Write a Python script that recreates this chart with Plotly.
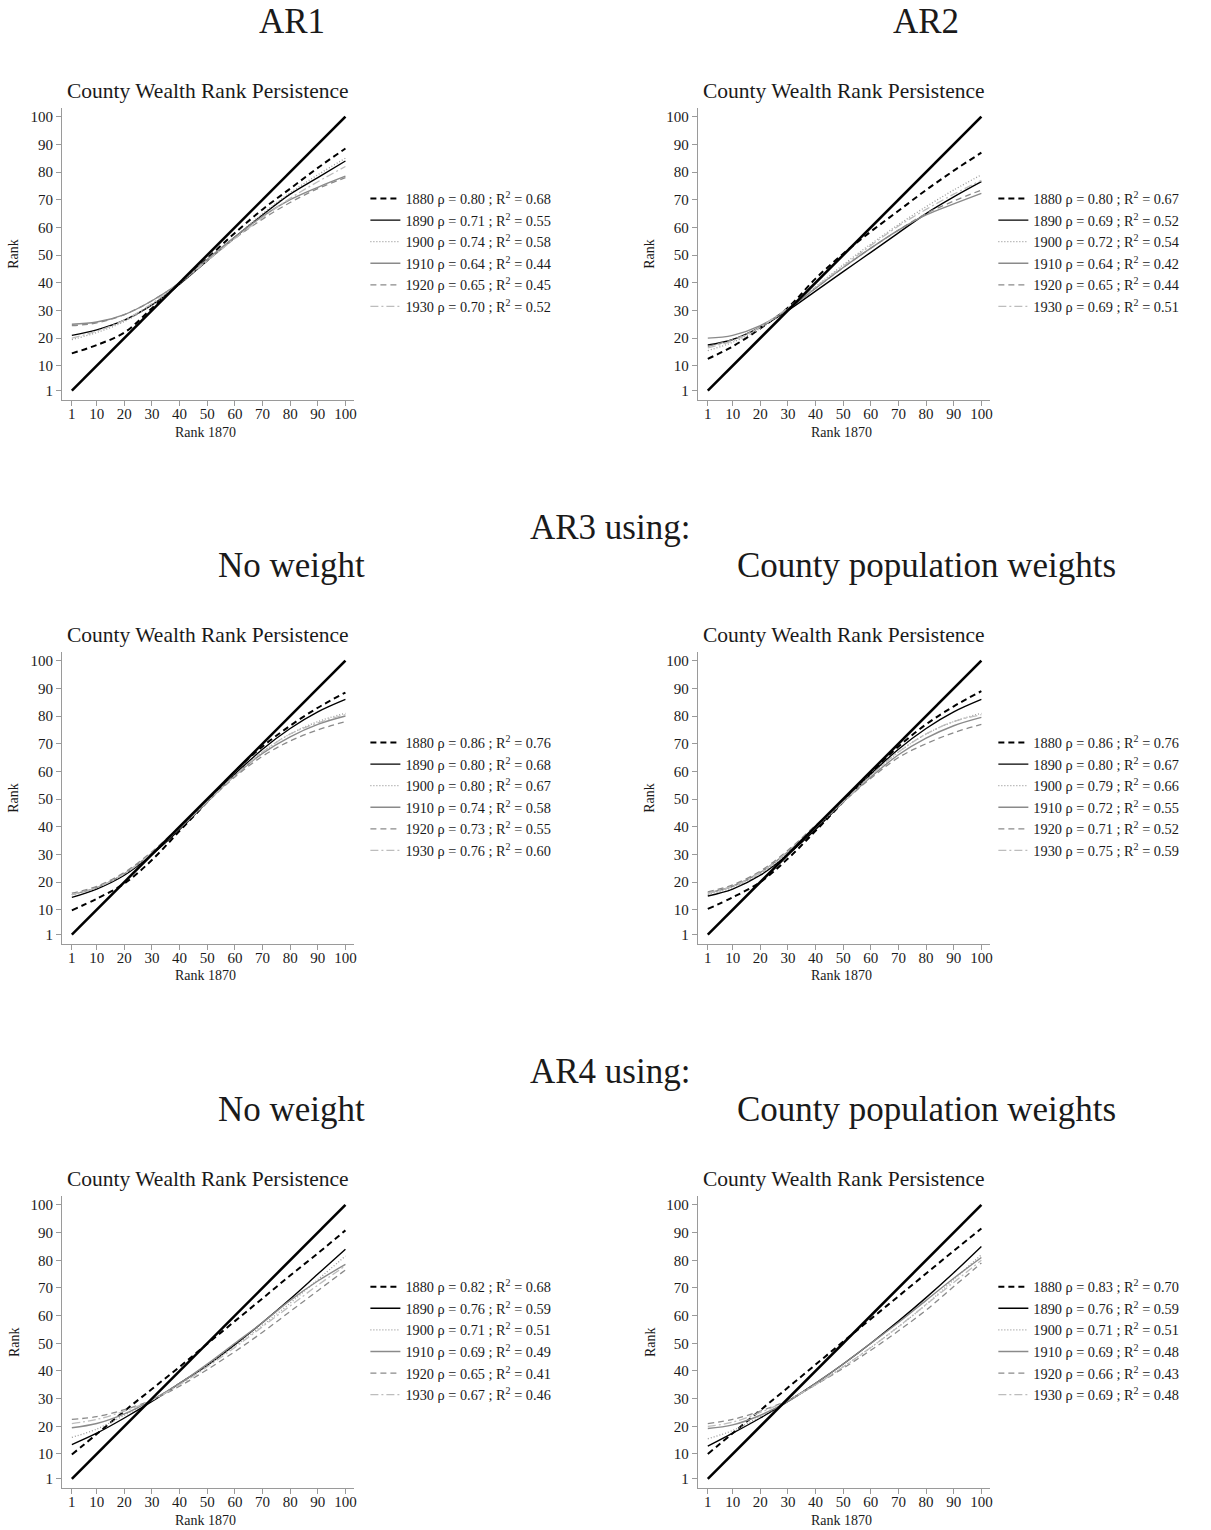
import plotly.graph_objects as go

W, H = 1211, 1530
SERIF = "Liberation Serif, Times New Roman, serif"

# Rank in 1870 at which each fitted persistence curve is sampled
rank_1870 = [1, 10, 20, 30, 40, 50, 60, 70, 80, 90, 100]
diag_rank = [1, 100]
decades = ["1880", "1890", "1900", "1910", "1920", "1930"]
tick_vals = [1, 10, 20, 30, 40, 50, 60, 70, 80, 90, 100]

# ---- AR1 ----
ar1_fit = [
    [14.5, 17.5, 22.0, 30.8, 39.8, 48.8, 58.0, 66.5, 74.0, 81.5, 88.5],
    [21.0, 23.0, 26.5, 32.0, 39.5, 48.0, 56.5, 64.5, 72.0, 78.0, 84.0],
    [19.5, 22.0, 26.0, 32.0, 39.5, 48.0, 56.5, 65.0, 72.5, 79.0, 85.0],
    [25.0, 25.8, 28.5, 33.5, 40.0, 48.5, 56.5, 64.0, 70.0, 74.5, 78.5],
    [24.5, 25.5, 28.5, 33.5, 40.0, 48.0, 56.0, 63.0, 69.0, 74.0, 78.0],
    [20.0, 22.5, 26.5, 32.5, 40.0, 48.0, 56.0, 63.5, 70.5, 76.5, 82.0],
]
ar1_rho = ["0.80", "0.71", "0.74", "0.64", "0.65", "0.70"]
ar1_r2 = ["0.68", "0.55", "0.58", "0.44", "0.45", "0.52"]

# ---- AR2 ----
ar2_fit = [
    [12.5, 17.0, 23.5, 31.0, 41.5, 50.5, 58.5, 66.0, 73.5, 80.5, 87.0],
    [17.5, 19.5, 24.0, 30.0, 37.0, 44.0, 51.0, 58.0, 65.0, 71.0, 76.5],
    [15.5, 18.5, 23.5, 30.5, 38.5, 46.5, 54.0, 61.0, 67.5, 73.5, 79.0],
    [20.0, 21.0, 24.5, 30.5, 38.0, 45.5, 52.5, 59.0, 64.5, 68.5, 72.3],
    [17.0, 19.5, 24.0, 30.5, 38.0, 45.5, 52.5, 59.0, 65.0, 69.5, 73.5],
    [16.5, 19.0, 24.0, 31.0, 38.5, 46.0, 53.5, 60.5, 66.5, 72.0, 77.0],
]
ar2_rho = ["0.80", "0.69", "0.72", "0.64", "0.65", "0.69"]
ar2_r2 = ["0.67", "0.52", "0.54", "0.42", "0.44", "0.51"]

# ---- AR3, no weight ----
ar3_fit = [
    [9.8, 14.0, 19.5, 28.0, 38.5, 49.0, 60.0, 69.0, 76.5, 83.0, 88.5],
    [14.5, 17.5, 22.5, 30.0, 39.0, 49.0, 59.0, 68.0, 75.5, 81.5, 86.0],
    [15.5, 18.0, 23.0, 30.5, 39.5, 49.0, 58.5, 67.0, 73.5, 78.0, 81.0],
    [15.5, 18.0, 23.0, 30.5, 39.5, 49.0, 58.5, 66.5, 72.5, 77.0, 80.0],
    [16.0, 18.5, 23.5, 31.0, 40.0, 49.0, 58.0, 65.5, 71.0, 75.0, 78.0],
    [15.5, 18.0, 23.0, 30.5, 39.5, 49.0, 58.5, 67.0, 73.5, 77.5, 80.5],
]
ar3_rho = ["0.86", "0.80", "0.80", "0.74", "0.73", "0.76"]
ar3_r2 = ["0.76", "0.68", "0.67", "0.58", "0.55", "0.60"]

# ---- AR3, county population weights ----
ar3w_fit = [
    [10.3, 14.5, 20.0, 28.5, 38.5, 49.0, 59.5, 69.0, 77.0, 83.5, 89.0],
    [15.0, 17.5, 22.5, 30.0, 39.0, 49.0, 59.0, 68.0, 75.5, 81.5, 86.0],
    [15.5, 18.0, 23.0, 30.5, 39.5, 49.0, 58.5, 67.0, 73.5, 78.0, 81.0],
    [16.0, 18.5, 23.5, 31.0, 40.0, 49.0, 58.0, 66.0, 72.0, 76.5, 79.5],
    [16.5, 19.0, 24.0, 31.5, 40.5, 49.0, 57.5, 65.0, 70.0, 74.0, 77.0],
    [16.0, 18.5, 23.5, 31.0, 40.0, 49.0, 58.5, 67.0, 73.5, 78.0, 80.5],
]
ar3w_rho = ["0.86", "0.80", "0.79", "0.72", "0.71", "0.75"]
ar3w_r2 = ["0.76", "0.67", "0.66", "0.55", "0.52", "0.59"]

# ---- AR4, no weight ----
ar4_fit = [
    [9.8, 17.2, 25.5, 33.5, 41.5, 49.8, 58.0, 66.2, 74.5, 82.5, 90.8],
    [13.4, 17.5, 23.0, 29.0, 35.5, 42.0, 49.5, 57.5, 66.0, 75.0, 84.0],
    [16.0, 19.0, 24.0, 29.5, 35.5, 42.0, 49.0, 56.5, 64.5, 73.0, 81.5],
    [19.5, 21.0, 24.5, 29.5, 35.5, 42.5, 50.0, 57.5, 65.5, 72.5, 78.5],
    [22.5, 23.5, 26.0, 29.5, 34.5, 40.5, 47.0, 54.0, 61.5, 69.0, 76.5],
    [21.0, 22.5, 25.5, 29.5, 35.0, 41.5, 48.5, 56.0, 63.5, 71.0, 78.0],
]
ar4_rho = ["0.82", "0.76", "0.71", "0.69", "0.65", "0.67"]
ar4_r2 = ["0.68", "0.59", "0.51", "0.49", "0.41", "0.46"]

# ---- AR4, county population weights ----
ar4w_fit = [
    [10.0, 17.5, 25.8, 34.0, 42.3, 50.6, 58.8, 67.0, 75.2, 83.4, 91.5],
    [12.8, 17.5, 23.0, 29.0, 35.5, 42.5, 50.0, 58.0, 66.5, 75.5, 85.0],
    [15.5, 18.5, 23.5, 29.0, 35.0, 41.5, 48.5, 56.0, 64.0, 73.0, 82.0],
    [19.2, 20.5, 24.0, 29.0, 35.5, 42.5, 50.0, 57.5, 65.5, 73.5, 81.0],
    [21.0, 22.5, 25.5, 29.5, 35.0, 41.0, 47.5, 54.5, 62.0, 70.5, 79.0],
    [20.0, 21.5, 25.0, 29.5, 35.0, 41.5, 48.5, 56.0, 64.0, 72.0, 80.0],
]
ar4w_rho = ["0.83", "0.76", "0.71", "0.69", "0.66", "0.69"]
ar4w_r2 = ["0.70", "0.59", "0.51", "0.48", "0.43", "0.48"]

# Line style for each decade: (colour, width, dash)
styles = [
    ("#000000", 2.0, "6px,4px"),
    ("#000000", 1.4, "solid"),
    ("#9a9a9a", 1.3, "1px,2px"),
    ("#8a8a8a", 1.4, "solid"),
    ("#8a8a8a", 1.3, "6px,4px"),
    ("#bdbdbd", 1.3, "8px,3px,2px,3px"),
]

panels = [
    (ar1_fit, ar1_rho, ar1_r2),
    (ar2_fit, ar2_rho, ar2_r2),
    (ar3_fit, ar3_rho, ar3_r2),
    (ar3w_fit, ar3w_rho, ar3w_r2),
    (ar4_fit, ar4_rho, ar4_r2),
    (ar4w_fit, ar4w_rho, ar4w_r2),
]

# pixel geometry of the plotting areas
COL_LEFT = [62, 699]
PLOT_W = 293
ROW_TOP = [107.7, 651.7, 1195.9]
PLOT_H = 292.3


def fx(px):
    return px / W


def fy(py):
    return 1 - py / H


fig = go.Figure()
annotations = []
layout = {}

for i, (fits, rhos, r2s) in enumerate(panels):
    row, col = divmod(i, 2)
    n = "" if i == 0 else str(i + 1)
    xa, ya = "x" + n, "y" + n
    leg = "legend" + n
    x0 = COL_LEFT[col]
    y0 = ROW_TOP[row]

    for k, dec in enumerate(decades):
        color, width, dash = styles[k]
        fig.add_trace(go.Scatter(
            x=rank_1870, y=fits[k], xaxis=xa, yaxis=ya, mode="lines",
            line=dict(color=color, width=width, dash=dash,
                      shape="spline", smoothing=1.0),
            name=f"{dec} ρ = {rhos[k]} ; R<sup>2</sup> = {r2s[k]}",
            legend=leg))

    # 45-degree reference line, drawn over the fitted curves
    fig.add_trace(go.Scatter(
        x=diag_rank, y=diag_rank, xaxis=xa, yaxis=ya, mode="lines",
        line=dict(color="#000000", width=2.6), showlegend=False,
        hoverinfo="skip"))

    axis_common = dict(
        tickvals=tick_vals, ticks="outside", ticklen=5, tickwidth=1,
        tickcolor="#9a9a9a", showline=True, linecolor="#9a9a9a",
        linewidth=1, showgrid=False, zeroline=False,
        tickfont=dict(family=SERIF, size=15, color="#1a1a1a"),
    )
    layout["xaxis" + n] = dict(
        axis_common, domain=[fx(x0), fx(x0 + PLOT_W)],
        range=[-2.6, 103.25], anchor=ya, ticklabelstandoff=-5)
    layout["yaxis" + n] = dict(
        axis_common, domain=[fy(y0 + PLOT_H), fy(y0)],
        range=[-2.36, 103.25], anchor=xa)

    leg_x = 366 if col == 0 else 995
    layout[leg] = dict(
        x=fx(leg_x), y=fy(y0 + 75), xanchor="left", yanchor="top",
        bgcolor="rgba(0,0,0,0)", borderwidth=0,
        font=dict(family=SERIF, size=14.3, color="#1a1a1a"),
        itemwidth=30, tracegroupgap=0)

    cx = x0 + PLOT_W / 2
    annotations.append(dict(
        text="County Wealth Rank Persistence", x=fx(cx), y=fy(y0 - 16.5),
        xref="paper", yref="paper", showarrow=False, xanchor="center",
        yanchor="middle", font=dict(family=SERIF, size=21.5, color="#1a1a1a")))
    annotations.append(dict(
        text="Rank", x=fx(x0 - 48), y=fy(y0 + PLOT_H / 2),
        xref="paper", yref="paper", showarrow=False, textangle=-90,
        xanchor="center", yanchor="middle",
        font=dict(family=SERIF, size=14, color="#1a1a1a")))
    annotations.append(dict(
        text="Rank 1870", x=fx(x0 + 144), y=fy(y0 + PLOT_H + 32),
        xref="paper", yref="paper", showarrow=False,
        xanchor="center", yanchor="middle",
        font=dict(family=SERIF, size=14, color="#1a1a1a")))

# section headings
headings = [
    ("AR1", 292, 22), ("AR2", 928, 22),
    ("AR3 using:", 611, 527), ("No weight", 292, 565),
    ("County population weights", 928, 565),
    ("AR4 using:", 611, 1071), ("No weight", 292, 1109),
    ("County population weights", 928, 1109),
]
for txt, hx, hy in headings:
    annotations.append(dict(
        text=txt, x=fx(hx), y=fy(hy), xref="paper", yref="paper",
        showarrow=False, xanchor="center", yanchor="middle",
        font=dict(family=SERIF, size=35, color="#1a1a1a")))

fig.update_layout(
    width=W, height=H, margin=dict(l=0, r=0, t=0, b=0),
    paper_bgcolor="white", plot_bgcolor="white",
    annotations=annotations, **layout)

fig.write_html("out.html")
